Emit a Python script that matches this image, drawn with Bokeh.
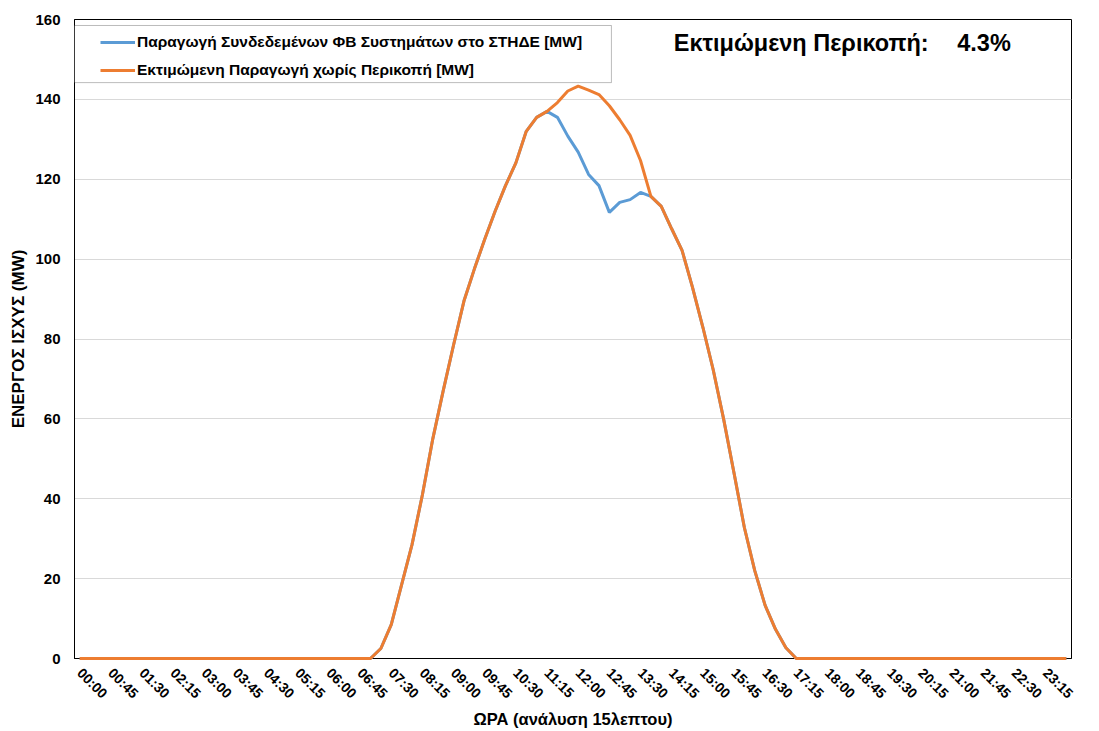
import numpy as np
from bokeh.plotting import figure
from bokeh.models import Range1d, FixedTicker, Legend, LegendItem, Label, BoxAnnotation
from bokeh.embed import file_html
from bokeh.resources import INLINE

# 15-minute time slots of the day (categories)
TIMES = [f"{h:02d}:{m:02d}" for h in range(24) for m in (0, 15, 30, 45)]
# every third slot is labelled on the axis
TICK_LABELS = ["00:00", "00:45", "01:30", "02:15", "03:00", "03:45", "04:30", "05:15",
               "06:00", "06:45", "07:30", "08:15", "09:00", "09:45", "10:30", "11:15",
               "12:00", "12:45", "13:30", "14:15", "15:00", "15:45", "16:30", "17:15",
               "18:00", "18:45", "19:30", "20:15", "21:00", "21:45", "22:30", "23:15"]
Y_TICKS = [0, 20, 40, 60, 80, 100, 120, 140, 160]

# Estimated production without curtailment [MW]
ESTIMATED = [0, 0, 0, 0, 0, 0, 0, 0, 0, 0, 0, 0, 0, 0, 0, 0,
             0, 0, 0, 0, 0, 0, 0, 0, 0, 0, 0, 0, 0,
             2.5, 8.5, 18.5, 28.5, 41.0, 55.0, 67.0, 78.5, 89.5, 97.5,
             105.0, 112.0, 118.4, 124.1, 132.0, 135.5, 137.0, 139.2, 142.1, 143.3,
             142.3, 141.2, 138.4, 134.9, 131.0, 124.7, 115.7, 113.2, 107.6, 102.2,
             93.0, 83.0, 72.3, 60.0, 46.5, 32.8, 22.0, 13.3, 7.3, 2.7,
             0, 0, 0, 0, 0, 0, 0, 0, 0, 0, 0, 0, 0, 0, 0, 0,
             0, 0, 0, 0, 0, 0, 0, 0, 0, 0, 0]

# Production of connected PV systems [MW]
ACTUAL = [0, 0, 0, 0, 0, 0, 0, 0, 0, 0, 0, 0, 0, 0, 0, 0,
          0, 0, 0, 0, 0, 0, 0, 0, 0, 0, 0, 0, 0,
          2.5, 8.5, 18.5, 28.5, 41.0, 55.0, 67.0, 78.5, 89.5, 97.5,
          105.0, 112.0, 118.4, 124.1, 132.0, 135.5, 137.0, 135.5, 130.8, 126.8,
          121.2, 118.4, 111.7, 114.2, 114.9, 116.7, 115.7, 113.2, 107.6, 102.2,
          93.0, 83.0, 72.3, 60.0, 46.5, 32.8, 22.0, 13.3, 7.3, 2.7,
          0, 0, 0, 0, 0, 0, 0, 0, 0, 0, 0, 0, 0, 0, 0, 0,
          0, 0, 0, 0, 0, 0, 0, 0, 0, 0, 0]

CURTAIL_PCT = 4.3
SERIES_NAMES = ["Παραγωγή Συνδεδεμένων ΦΒ Συστημάτων στο ΣΤΗΔΕ [MW]",
                "Εκτιμώμενη Παραγωγή χωρίς Περικοπή [MW]"]
COLORS = ["#5B9BD5", "#ED7D31"]

FONT = "Liberation Sans"
idx = list(range(len(TIMES)))

p = figure(width=1091, height=731, output_backend="svg", toolbar_location=None,
           x_range=Range1d(-0.5, len(TIMES) - 0.5), y_range=Range1d(0, 160),
           min_border_left=74, min_border_right=20, min_border_top=19, min_border_bottom=73)
p.outline_line_color = "black"
p.outline_line_width = 1
p.background_fill_color = "white"
p.border_fill_color = "white"

# axes
tick_pos = [TIMES.index(t) for t in TICK_LABELS]
p.xaxis.ticker = FixedTicker(ticks=tick_pos)
p.xaxis.major_label_overrides = {i: t for i, t in zip(tick_pos, TICK_LABELS)}
p.xaxis.major_label_orientation = -np.pi / 4
p.yaxis.ticker = FixedTicker(ticks=Y_TICKS)

for ax in (p.xaxis[0], p.yaxis[0]):
    ax.axis_line_color = "black"
    ax.axis_line_width = 1
    ax.major_tick_out = 0
    ax.major_tick_in = 0
    ax.minor_tick_out = 0
    ax.minor_tick_in = 0
    ax.major_label_text_font = FONT
    ax.major_label_text_font_style = "bold"
    ax.major_label_text_color = "black"
    ax.axis_label_text_font = FONT
    ax.axis_label_text_font_style = "bold"
    ax.axis_label_text_color = "black"

p.xaxis.major_label_text_font_size = "14px"
p.xaxis.major_label_standoff = 12
p.xaxis.axis_label = "ΩΡΑ (ανάλυση 15λεπτου)"
p.xaxis.axis_label_text_font_size = "16.5px"
p.xaxis.axis_label_standoff = 0

p.yaxis.major_label_text_font_size = "15px"
p.yaxis.major_label_standoff = 14
p.yaxis.axis_label = "ΕΝΕΡΓΟΣ ΙΣΧΥΣ (MW)"
p.yaxis.axis_label_text_font_size = "17px"
p.yaxis.axis_label_standoff = 4

p.xgrid.visible = False
p.ygrid.grid_line_color = "#d9d9d9"
p.ygrid.grid_line_width = 1

r1 = p.line(idx, ACTUAL, line_color=COLORS[0], line_width=3)
r2 = p.line(idx, ESTIMATED, line_color=COLORS[1], line_width=3)
r1.level = "overlay"
r2.level = "overlay"

# legend frame
box = BoxAnnotation(left=-0.5, right=51.2, bottom=144.2, top=158.5,
                    fill_color="white", fill_alpha=1.0,
                    line_color="#222222", line_width=1, level="annotation")
p.add_layout(box)

legend = Legend(items=[LegendItem(label=SERIES_NAMES[0], renderers=[r1]),
                       LegendItem(label=SERIES_NAMES[1], renderers=[r2])],
                location=(26, 578), margin=0, padding=0, spacing=8,
                glyph_width=35, glyph_height=20, label_standoff=2,
                label_text_font=FONT, label_text_font_style="bold",
                label_text_font_size="15.5px", label_text_color="black",
                border_line_color=None, background_fill_alpha=0)
p.add_layout(legend)

p.add_layout(Label(x=57.2, y=154.2, text="Εκτιμώμενη Περικοπή:", text_baseline="middle",
                   text_align="left", text_font=FONT, text_font_style="bold",
                   text_font_size="23.5px", text_color="black"))
p.add_layout(Label(x=84.5, y=154.2, text=f"{CURTAIL_PCT}%", text_baseline="middle",
                   text_align="left", text_font=FONT, text_font_style="bold",
                   text_font_size="23.5px", text_color="black"))

open("out.html", "w").write(file_html(p, INLINE))
